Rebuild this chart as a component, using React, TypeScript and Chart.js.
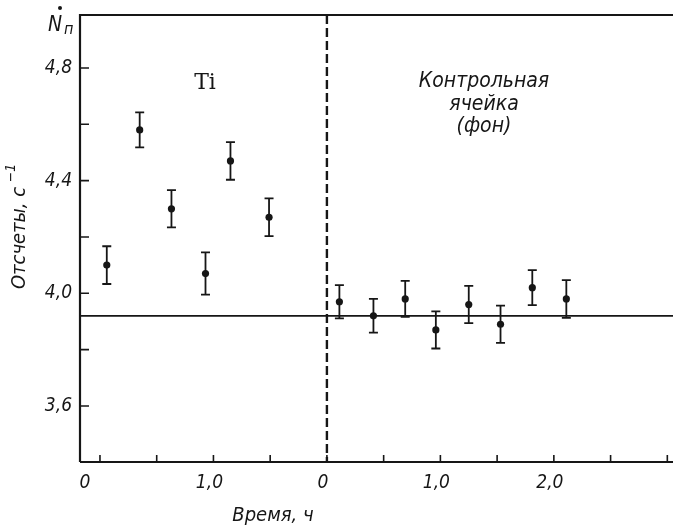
import React, { useEffect, useRef } from "react";
import { Chart, registerables } from "chart.js";

Chart.register(...registerables);

// Ti cell (left panel), time in hours
const TI_TIME = [0.06, 0.35, 0.63, 0.93, 1.15, 1.49];
const TI_COUNTS = [4.1, 4.58, 4.3, 4.07, 4.47, 4.27];
const TI_ERR = [0.067, 0.062, 0.066, 0.075, 0.067, 0.067];

// Control cell (background), time in hours since its start
const CTRL_TIME = [0.11, 0.41, 0.69, 0.96, 1.25, 1.53, 1.81, 2.11];
const CTRL_COUNTS = [3.97, 3.92, 3.98, 3.87, 3.96, 3.89, 4.02, 3.98];
const CTRL_ERR = [0.059, 0.06, 0.064, 0.066, 0.066, 0.066, 0.062, 0.067];

const BACKGROUND_LEVEL = 3.92;
const CTRL_START = 2.0; // position of the dashed divider on the shared time axis

const Y_TICKS = [3.6, 3.8, 4.0, 4.2, 4.4, 4.6, 4.8];
const Y_TICK_LABELS = ["3,6", "", "4,0", "", "4,4", "", "4,8"];
const X_TICKS = [0, 0.5, 1.0, 1.5, 2.0, 2.5, 3.0, 3.5, 4.0, 4.5, 5.0];
const X_LABEL_POS = [1.0, 2.0, 3.0, 4.0];
const X_LABELS = ["1,0", "0", "1,0", "2,0"];

const INK = "#161616";
const SANS = "'DejaVu Sans Condensed', 'Liberation Sans Narrow', 'DejaVu Sans', sans-serif";

export default function App() {
  const ref = useRef<HTMLCanvasElement | null>(null);

  useEffect(() => {
    if (!ref.current) return;

    const tiPts = TI_TIME.map((t, i) => ({ x: t, y: TI_COUNTS[i] }));
    const ctrlPts = CTRL_TIME.map((t, i) => ({ x: CTRL_START + t, y: CTRL_COUNTS[i] }));

    const decor = {
      id: "decor",
      beforeDatasetsDraw(chart: any) {
        const { ctx, chartArea: a, scales } = chart;
        const xs = scales.x;
        const ys = scales.y;
        ctx.save();
        ctx.strokeStyle = INK;
        ctx.lineCap = "butt";

        // axes frame: left, top, bottom
        ctx.lineWidth = 2.2;
        ctx.beginPath();
        ctx.moveTo(a.left, a.top);
        ctx.lineTo(a.right, a.top);
        ctx.moveTo(a.left, a.top - 1);
        ctx.lineTo(a.left, a.bottom);
        ctx.moveTo(a.left, a.bottom);
        ctx.lineTo(a.right, a.bottom);
        ctx.stroke();

        // y ticks
        ctx.lineWidth = 1.6;
        ctx.beginPath();
        Y_TICKS.forEach((v) => {
          const y = ys.getPixelForValue(v);
          ctx.moveTo(a.left, y);
          ctx.lineTo(a.left + 9, y);
        });
        // x ticks
        X_TICKS.forEach((v) => {
          const x = xs.getPixelForValue(v);
          ctx.moveTo(x, a.bottom);
          ctx.lineTo(x, a.bottom - 7);
        });
        ctx.stroke();

        // background level line
        ctx.lineWidth = 1.8;
        const yb = ys.getPixelForValue(BACKGROUND_LEVEL);
        ctx.beginPath();
        ctx.moveTo(a.left, yb);
        ctx.lineTo(a.right, yb);
        ctx.stroke();

        // dashed divider
        const xd = xs.getPixelForValue(CTRL_START);
        ctx.lineWidth = 2.4;
        ctx.setLineDash([9, 4]);
        ctx.beginPath();
        ctx.moveTo(xd, a.top);
        ctx.lineTo(xd, a.bottom);
        ctx.stroke();
        ctx.setLineDash([]);

        // error bars
        const drawErr = (xv: number, yv: number, e: number) => {
          const x = xs.getPixelForValue(xv);
          const y1 = ys.getPixelForValue(yv + e);
          const y2 = ys.getPixelForValue(yv - e);
          ctx.lineWidth = 1.8;
          ctx.beginPath();
          ctx.moveTo(x, y1);
          ctx.lineTo(x, y2);
          ctx.moveTo(x - 4.5, y1);
          ctx.lineTo(x + 4.5, y1);
          ctx.moveTo(x - 4.5, y2);
          ctx.lineTo(x + 4.5, y2);
          ctx.stroke();
        };
        TI_TIME.forEach((t, i) => drawErr(t, TI_COUNTS[i], TI_ERR[i]));
        CTRL_TIME.forEach((t, i) => drawErr(CTRL_START + t, CTRL_COUNTS[i], CTRL_ERR[i]));
        ctx.restore();
      },
      afterDraw(chart: any) {
        const { ctx, chartArea: a, scales } = chart;
        const xs = scales.x;
        const ys = scales.y;
        ctx.save();
        ctx.fillStyle = INK;

        // y tick labels
        ctx.font = `italic 19px ${SANS}`;
        ctx.textAlign = "right";
        ctx.textBaseline = "middle";
        Y_TICKS.forEach((v, i) => {
          if (!Y_TICK_LABELS[i]) return;
          ctx.fillText(Y_TICK_LABELS[i], a.left - 8, ys.getPixelForValue(v));
        });

        // x tick labels
        ctx.textAlign = "center";
        ctx.textBaseline = "middle";
        ctx.fillText("0", a.left + 5, a.bottom + 21);
        X_LABEL_POS.forEach((v, i) => {
          ctx.fillText(X_LABELS[i], xs.getPixelForValue(v) - 4, a.bottom + 21);
        });

        // x title
        ctx.font = `italic 20px ${SANS}`;
        ctx.fillText("Время, ч", 273, a.bottom + 54);

        // y title
        ctx.save();
        ctx.translate(20, 231);
        ctx.rotate(-Math.PI / 2);
        ctx.fillText("Отсчеты, с", -7, 0);
        ctx.font = `italic 14px ${SANS}`;
        ctx.fillText("−1", 58, -9);
        ctx.restore();

        // N-dot label
        ctx.font = `italic 21px ${SANS}`;
        ctx.textAlign = "left";
        ctx.textBaseline = "alphabetic";
        ctx.fillText("N", 48, 31);
        ctx.beginPath();
        ctx.arc(60, 8, 2, 0, Math.PI * 2);
        ctx.fill();
        ctx.font = `italic 16px ${SANS}`;
        ctx.fillText("п", 64, 34);

        // Ti label
        ctx.font = `22px 'DejaVu Serif', 'Liberation Serif', serif`;
        ctx.textAlign = "center";
        ctx.textBaseline = "middle";
        ctx.fillText("Ti", 205, 83);

        // control cell label
        ctx.font = `italic 21px ${SANS}`;
        ctx.fillText("Контрольная", 484, 82);
        ctx.fillText("ячейка", 484, 105);
        ctx.fillText("(фон)", 484, 127);

        ctx.restore();
      },
    };

    const chart = new Chart(ref.current, {
      type: "scatter",
      data: {
        datasets: [
          {
            label: "Ti",
            data: tiPts,
            pointRadius: 3.6,
            pointBackgroundColor: INK,
            pointBorderColor: INK,
            pointBorderWidth: 0,
          },
          {
            label: "Контрольная ячейка (фон)",
            data: ctrlPts,
            pointRadius: 3.6,
            pointBackgroundColor: INK,
            pointBorderColor: INK,
            pointBorderWidth: 0,
          },
        ],
      },
      options: {
        animation: false,
        responsive: false,
        devicePixelRatio: 1,
        layout: { autoPadding: false, padding: { left: 80, top: 15, right: 0, bottom: 67 } },
        scales: {
          x: { type: "linear", min: -0.176, max: 5.05, display: false },
          y: { type: "linear", min: 3.401, max: 4.988, display: false },
        },
        plugins: { legend: { display: false }, tooltip: { enabled: false } },
      },
      plugins: [decor],
    });
    return () => chart.destroy();
  }, []);

  return (
    <div style={{ position: "absolute", left: 0, top: 0, width: 673, height: 529, background: "#fff" }}>
      <canvas ref={ref} width={673} height={529} style={{ display: "block" }} />
    </div>
  );
}
